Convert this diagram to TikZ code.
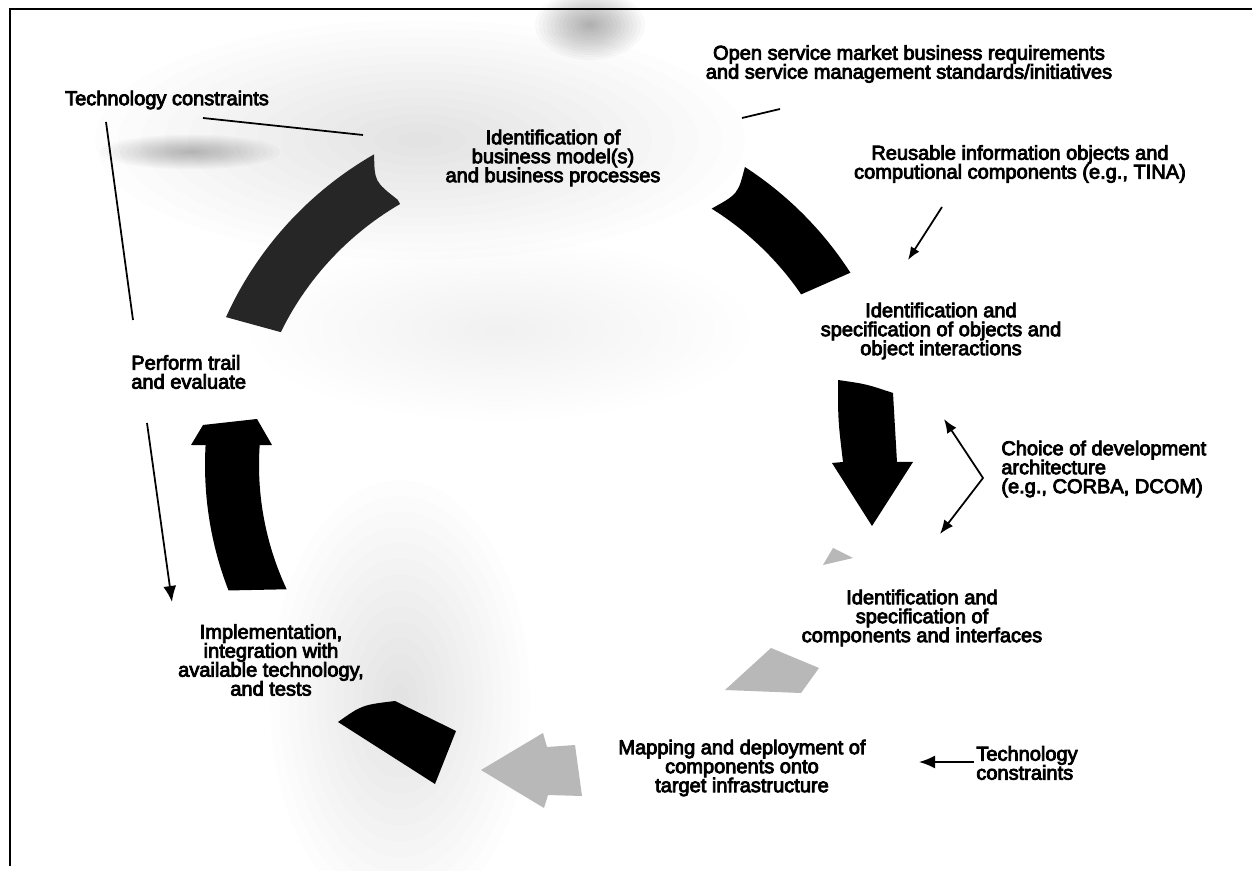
\documentclass[tikz,border=0pt]{standalone}
\usepackage{fontspec}
\setmainfont{Liberation Sans}
\newfontfamily\lblfont{Liberation Sans}[FakeBold=4]
\usetikzlibrary{arrows.meta}
\newcommand\hazeblob[5]{%
  \foreach \k [evaluate=\k as \rx using #3*\k/14, evaluate=\k as \ry using #4*\k/14] in {1,...,14}
    {\fill[black, fill opacity=#5] (#1,#2) ellipse [x radius=\rx cm, y radius=\ry cm];}}
\begin{document}
\begin{tikzpicture}[x=0.02cm,y=-0.02cm,
  lbl/.style={font=\lblfont\fontsize{11.4}{10.8}\selectfont, inner sep=0pt, align=center, text=black},
  wire/.style={line width=1pt, draw=black},
  tipS/.style={-{Latex[length=0.26cm,width=0.2cm]}},
  tipM/.style={-{Latex[length=0.32cm,width=0.26cm]}},
  tipD/.style={{Latex[length=0.28cm,width=0.22cm]}-{Latex[length=0.28cm,width=0.22cm]}},
  band/.style={fill=black},
  darkband/.style={fill=black!85},
  ghost/.style={fill=black!28},
  frame/.style={line width=1.1pt, draw=black}
]
\useasboundingbox (0,0) rectangle (1252,871);
\fill[white] (0,0) rectangle (1252,871);

% soft background haze
\hazeblob{420}{140}{6.5}{2.4}{0.006}
\hazeblob{500}{330}{5.0}{1.8}{0.005}
\hazeblob{400}{700}{2.6}{4.4}{0.006}
\hazeblob{590}{25}{1.1}{0.7}{0.022}
\hazeblob{190}{152}{1.8}{0.35}{0.018}

% frame (top and left edges)
\coordinate (fr0) at (10,9);
\coordinate (fr1) at (1252,9);
\coordinate (fr2) at (10,866);
\draw[frame] (fr1) -- (fr0) -- (fr2);

% cycle arrows (ring centred at (552,465))
% top-left band (dark grey)
\fill[darkband] plot[domain=204.4:240.2, samples=30] ({552+358*cos(\x)},{465+358*sin(\x)})
  .. controls (374.6,181.5) .. (397.6,199.7)
  -- plot[domain=239.8:206.1, samples=30] ({552+302*cos(\x)},{465+302*sin(\x)}) -- cycle;
% top-right band (black)
\fill[band] plot[domain=302.9:327.2, samples=30] ({552+355*cos(\x)},{465+355*sin(\x)})
  -- plot[domain=325.6:301.9, samples=30] ({552+302*cos(\x)},{465+302*sin(\x)})
  .. controls (738,194) .. (744.9,167) -- cycle;
% down arrow (black)
\fill[band] (838,380) .. controls (866,384) .. (893,393) -- (897,462) -- (913,462)
  -- (872,526) -- (832,463) -- (843,462) .. controls (838,420) .. (838,380) -- cycle;
% faint grey pieces
\fill[ghost] (823,565) -- (833,548) -- (853,558) -- cycle;
\fill[ghost] (771,648) -- (819,668) -- (801,693) -- (725,690) -- cycle;
\fill[ghost] (481,770) -- (543,733) -- (547,747) -- (575,745) -- (582,796)
  -- (548,795) -- (544,808) -- cycle;
% black quad (bottom left)
\fill[band] (338,722) .. controls (362,705) .. (395,701) -- (456,731) -- (435,784) -- cycle;
% up arrow (black)
\fill[band] (191,445) -- (203,425) -- (257,419) -- (272,445) -- (259.7,445.1)
  -- plot[domain=183.9:154.9, samples=30] ({552+293*cos(\x)},{465+293*sin(\x)})
  -- plot[domain=158.8:183.3, samples=30] ({552+347*cos(\x)},{465+347*sin(\x)}) -- cycle;

% labels
\node[lbl] (tc1) at (167,100) {Technology constraints};
\node[lbl] (os) at (909,64) {Open service market business requirements\\and service management standards/initiatives};
\node[lbl] (bm) at (553,158) {Identification of\\business model(s)\\and business processes};
\node[lbl] (ro) at (1020,164) {Reusable information objects and\\computional components (e.g., TINA)};
\node[lbl] (oi) at (941,331) {Identification and\\specification of objects and\\object interactions};
\node[lbl, anchor=west, align=left] (ch) at (1001,469) {Choice of development\\architecture\\(e.g., CORBA, DCOM)};
\node[lbl] (ci) at (922,618) {Identification and\\specification of\\components and interfaces};
\node[lbl] (mp) at (742,768) {Mapping and deployment of\\components onto\\target infrastructure};
\node[lbl, anchor=west, align=left] (tc2) at (976,763) {Technology\\constraints};
\node[lbl] (im) at (271,660) {Implementation,\\integration with\\available technology,\\and tests};
\node[lbl, anchor=west, align=left] (pt) at (131,372) {Perform trail\\and evaluate};

% thin connectors
\coordinate (a1) at (106,122); \coordinate (a2) at (133,320);
\coordinate (b1) at (203,118); \coordinate (b2) at (363,135);
\coordinate (c1) at (742,118); \coordinate (c2) at (780,109);
\coordinate (d1) at (942,207); \coordinate (d2) at (908,260);
\coordinate (e1) at (944,419); \coordinate (e0) at (983,478); \coordinate (e2) at (940,534);
\coordinate (f1) at (147,423); \coordinate (f2) at (172,602);
\coordinate (g1) at (974,762); \coordinate (g2) at (919,762);
\draw[wire] (a1) -- (a2);
\draw[wire] (b1) -- (b2);
\draw[wire] (c1) -- (c2);
\draw[wire, tipS] (d1) -- (d2);
\draw[wire, tipD] (e1) -- (e0) -- (e2);
\draw[wire, tipM] (f1) -- (f2);
\draw[wire, tipM] (g1) -- (g2);
\end{tikzpicture}
\end{document}
